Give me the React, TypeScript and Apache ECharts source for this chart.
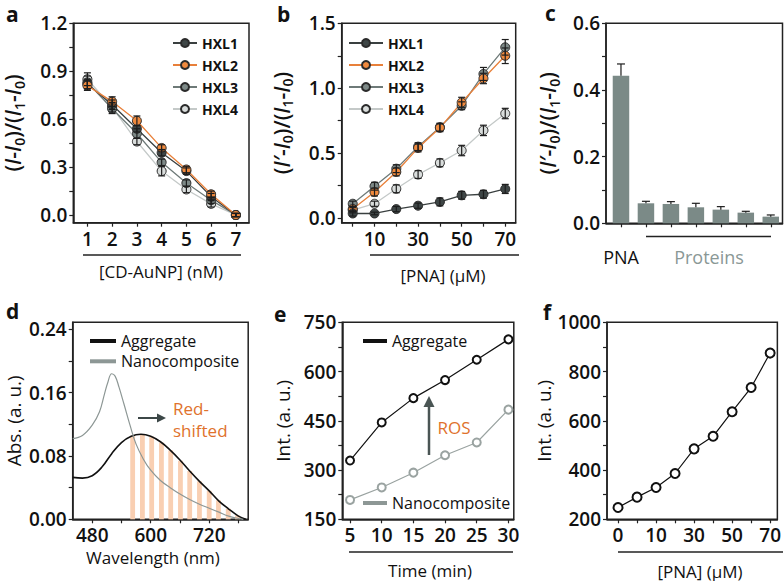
import React, { useEffect, useRef } from 'react';
import * as echarts from 'echarts';

const FONT = '"Open Sans", "DejaVu Sans", sans-serif';

// ---------- Panel a ----------
const aConc = [1, 2, 3, 4, 5, 6, 7];
const aHXL1 = [0.82, 0.69, 0.54, 0.39, 0.275, 0.115, 0.0];
const aHXL2 = [0.81, 0.71, 0.59, 0.42, 0.285, 0.13, 0.0];
const aHXL3 = [0.83, 0.665, 0.51, 0.33, 0.2, 0.093, 0.0];
const aHXL4 = [0.85, 0.675, 0.46, 0.275, 0.16, 0.07, 0.0];
const aErr1 = [0.03, 0.03, 0.02, 0.02, 0.02, 0.02, 0.01];
const aErr2 = [0.03, 0.03, 0.03, 0.02, 0.02, 0.02, 0.01];
const aErr3 = [0.04, 0.03, 0.03, 0.02, 0.02, 0.02, 0.01];
const aErr4 = [0.04, 0.03, 0.02, 0.03, 0.02, 0.02, 0.01];
const aYLabels = [0, 0.3, 0.6, 0.9, 1.2];
const aYTicks = [0, 0.15, 0.3, 0.45, 0.6, 0.75, 0.9, 1.05, 1.2];

// ---------- Panel b ----------
const bPNA = [0, 10, 20, 30, 40, 50, 60, 70];
const bHXL1 = [0.035, 0.035, 0.069, 0.095, 0.124, 0.175, 0.183, 0.224];
const bHXL2 = [0.07, 0.2, 0.355, 0.54, 0.695, 0.89, 1.075, 1.25];
const bHXL3 = [0.11, 0.245, 0.38, 0.55, 0.7, 0.865, 1.11, 1.315];
const bHXL4 = [0.06, 0.11, 0.225, 0.335, 0.425, 0.52, 0.675, 0.805];
const bErr1 = [0.02, 0.01, 0.02, 0.02, 0.03, 0.03, 0.03, 0.035];
const bErr2 = [0.02, 0.03, 0.03, 0.03, 0.03, 0.04, 0.04, 0.06];
const bErr3 = [0.02, 0.03, 0.03, 0.03, 0.03, 0.03, 0.05, 0.06];
const bErr4 = [0.02, 0.02, 0.03, 0.03, 0.03, 0.04, 0.04, 0.04];
const bXLabels = [10, 30, 50, 70];
const bYLabels = [0, 0.5, 1.0, 1.5];
const bYTicks = [0, 0.25, 0.5, 0.75, 1.0, 1.25, 1.5];

// ---------- Panel c ----------
const cSamples = ['PNA', 'Protein 1', 'Protein 2', 'Protein 3', 'Protein 4', 'Protein 5', 'Protein 6'];
const cValues = [0.443, 0.06, 0.058, 0.048, 0.041, 0.032, 0.02];
const cErr = [0.035, 0.006, 0.007, 0.012, 0.009, 0.004, 0.005];
const cYLabels = [0, 0.2, 0.4, 0.6];
const cYTicks = [0, 0.1, 0.2, 0.3, 0.4, 0.5, 0.6];

// ---------- Panel d ----------
const dAggregate = [
  [440, 0.053], [460, 0.052], [480, 0.055], [500, 0.066], [520, 0.083], [540, 0.097],
  [560, 0.105], [580, 0.1075], [600, 0.105], [620, 0.098], [640, 0.0875], [660, 0.075],
  [680, 0.061], [700, 0.048], [720, 0.036], [740, 0.023], [760, 0.013], [780, 0.004], [795, 0.0],
];
const dNanocomposite = [
  [440, 0.102], [460, 0.106], [480, 0.119], [495, 0.136], [505, 0.158], [512, 0.173],
  [520, 0.184], [527, 0.181], [535, 0.167], [545, 0.146], [558, 0.118], [570, 0.095],
  [585, 0.076], [600, 0.062], [620, 0.049], [640, 0.04], [660, 0.032], [680, 0.025],
  [700, 0.019], [720, 0.014], [740, 0.009], [760, 0.004], [780, 0.001], [790, 0.0],
];
const dStripes = [
  [563, 0.1055], [583, 0.1073], [602, 0.1045], [622, 0.097], [641, 0.087], [661, 0.074],
  [680, 0.061], [700, 0.048], [720, 0.036], [739, 0.024], [759, 0.0135], [778, 0.005],
];
const dXLabels = [480, 600, 720];
const dXTicks = [480, 540, 600, 660, 720, 780];
const dYLabels = [0, 0.08, 0.16, 0.24];
const dYTicks = [0, 0.04, 0.08, 0.12, 0.16, 0.2, 0.24];

// ---------- Panel e ----------
const eTime = [5, 10, 15, 20, 25, 30];
const eAggregate = [329, 445, 519, 574, 636, 698];
const eNanocomposite = [209, 247, 292, 345, 384, 484];
const eYLabels = [150, 300, 450, 600, 750];
const eYTicks = [150, 225, 300, 375, 450, 525, 600, 675, 750];

// ---------- Panel f ----------
const fPNA = [0, 5, 10, 20, 30, 40, 50, 60, 70];
const fInt = [248, 290, 329, 386, 486, 537, 637, 735, 875];
const fLabelIdx = [0, 2, 4, 6, 8];
const fYLabels = [200, 400, 600, 800, 1000];
const fYTicks = [200, 300, 400, 500, 600, 700, 800, 900, 1000];

const HXL_NAMES = ['HXL1', 'HXL2', 'HXL3', 'HXL4'];
const HXL_LINE = ['#3a4040', '#e8803a', '#6e7a78', '#c4c9c8'];
const HXL_FILL = ['#3e4646', '#f08a3e', '#7d8987', '#d9dddc'];

const AX = '#222';
const ORANGE = '#e0722c';

const rich = {
  p: { fontSize: 21, fontWeight: 600, fontFamily: FONT, color: '#111', lineHeight: 26 },
  i: { fontSize: 21, fontWeight: 600, fontStyle: 'italic', fontFamily: FONT, color: '#111', lineHeight: 26 },
  s: { fontSize: 14, fontWeight: 600, fontFamily: FONT, color: '#111', lineHeight: 13, verticalAlign: 'bottom' },
};
const yNameA = '{p|(}{i|I}{p|-}{i|I}{s|0}{p|)/(}{i|I}{s|1}{p|-}{i|I}{s|0}{p|)}';
const yNameB = '{p|(}{i|I′}{p|-}{i|I}{s|0}{p|)/(}{i|I}{s|1}{p|-}{i|I}{s|0}{p|)}';

const labelStyle = { fontSize: 19, fontWeight: 600, fontFamily: FONT, color: '#111' };

function valAxis(o: any) {
  return {
    type: 'value',
    gridIndex: o.grid,
    min: o.min,
    max: o.max,
    axisLine: { show: true, onZero: false, lineStyle: { color: AX, width: 1.5 } },
    axisTick: { show: true, length: o.tickLen ?? 4, customValues: o.ticks, lineStyle: { color: AX, width: 1.2 } },
    axisLabel: o.labels
      ? { show: true, customValues: o.labels, formatter: o.fmt, margin: o.margin ?? 6, ...labelStyle }
      : { show: false },
    splitLine: { show: false },
    name: o.name,
    nameLocation: 'middle',
    nameGap: o.nameGap,
    nameRotate: o.name ? 90 : undefined,
    nameTextStyle: o.rich ? { rich } : { fontSize: 19, fontFamily: FONT, color: '#111' },
  };
}

function errSeries(xi: number, xs: number[], ys: number[], es: number[], upOnly = false, cap = 3.5) {
  return {
    type: 'custom',
    xAxisIndex: xi,
    yAxisIndex: xi,
    silent: true,
    z: 6,
    encode: { x: 0, y: 1 },
    data: xs.map((x, i) => [x, ys[i], es[i]]),
    renderItem: (_p: any, api: any) => {
      const x = api.value(0);
      const y = api.value(1);
      const e = api.value(2);
      const hi = api.coord([x, y + e]);
      const lo = api.coord([x, upOnly ? y : y - e]);
      const style = { stroke: '#1e1e1e', lineWidth: 1.2 };
      const children: any[] = [
        { type: 'line', shape: { x1: hi[0], y1: hi[1], x2: lo[0], y2: lo[1] }, style },
        { type: 'line', shape: { x1: hi[0] - cap, y1: hi[1], x2: hi[0] + cap, y2: hi[1] }, style },
      ];
      if (!upOnly) children.push({ type: 'line', shape: { x1: lo[0] - cap, y1: lo[1], x2: lo[0] + cap, y2: lo[1] }, style });
      return { type: 'group', children };
    },
  };
}

function hxlSeries(xi: number, xs: number[], ys: number[], k: number) {
  return {
    type: 'line',
    name: HXL_NAMES[k],
    xAxisIndex: xi,
    yAxisIndex: xi,
    data: xs.map((x, i) => [x, ys[i]]),
    symbol: 'circle',
    symbolSize: 9,
    lineStyle: { color: HXL_LINE[k], width: 1.3 },
    itemStyle: { color: HXL_FILL[k], borderColor: '#2b2b2b', borderWidth: 1 },
    z: 3,
  };
}

function txt(x: number, y: number, text: string, o: any = {}) {
  return {
    type: 'text',
    x,
    y,
    silent: true,
    style: {
      text,
      fill: o.fill ?? '#111',
      fontSize: o.size ?? 17,
      fontWeight: o.weight ?? 'normal',
      fontFamily: FONT,
      lineHeight: o.lineHeight,
      align: o.align ?? 'center',
      textAlign: o.align ?? 'center',
      verticalAlign: o.valign ?? 'middle',
      textVerticalAlign: o.valign ?? 'middle',
    },
  };
}
function ln(x1: number, y1: number, x2: number, y2: number, color = '#222', w = 1.5) {
  return { type: 'line', silent: true, shape: { x1, y1, x2, y2 }, style: { stroke: color, lineWidth: w } };
}

const legendText = { fontFamily: FONT, fontWeight: 'bold', fontSize: 14, color: '#111', lineHeight: 14 };
const legendText2 = { fontFamily: FONT, fontSize: 16, color: '#111', lineHeight: 16 };
const letter = { size: 21, weight: 'bold', align: 'left', valign: 'middle', lineHeight: 14 };

export default function App() {
  const ref = useRef<HTMLDivElement>(null);
  useEffect(() => {
    if (!ref.current) return;
    const chart = echarts.init(ref.current, undefined, { renderer: 'svg' });
    const grids = [
      { left: 73.3, top: 23.3, width: 175.7, height: 199.4 },
      { left: 341.7, top: 23.3, width: 174, height: 199.4 },
      { left: 606, top: 23.3, width: 176.5, height: 200 },
      { left: 72.7, top: 322.3, width: 175.5, height: 197 },
      { left: 342.3, top: 322.3, width: 171.5, height: 197 },
      { left: 607, top: 322.3, width: 175.5, height: 197 },
    ].map((g) => ({ ...g, show: true, borderColor: AX, borderWidth: 1.5, backgroundColor: 'transparent' }));

    const option: any = {
      animation: false,
      backgroundColor: '#fff',
      grid: grids,
      legend: [
        {
          left: 167, top: 31, orient: 'vertical', selectedMode: false,
          data: HXL_NAMES, itemWidth: 24, itemHeight: 10, itemGap: 8, textStyle: legendText,
        },
        {
          left: 343, top: 31, orient: 'vertical', selectedMode: false,
          data: HXL_NAMES, itemWidth: 34, itemHeight: 10, itemGap: 8, textStyle: legendText,
        },
        {
          left: 85, top: 328, orient: 'vertical', selectedMode: false, icon: 'rect',
          itemWidth: 26, itemHeight: 4, itemGap: 4.3,
          data: [
            { name: 'Aggregate', itemStyle: { color: '#111' } },
            { name: 'Nanocomposite', itemStyle: { color: '#8d9795' } },
          ],
          textStyle: legendText2,
        },
        {
          left: 358, top: 328, selectedMode: false, icon: 'rect', itemWidth: 24, itemHeight: 4,
          data: [{ name: 'Aggregate', itemStyle: { color: '#111' } }],
          textStyle: legendText2,
        },
        {
          left: 358, top: 490, selectedMode: false, icon: 'rect', itemWidth: 24, itemHeight: 4,
          data: [{ name: 'Nanocomposite', itemStyle: { color: '#8d9795' } }],
          textStyle: legendText2,
        },
      ],
      xAxis: [
        valAxis({ grid: 0, min: 0.43, max: 7.53, ticks: aConc, labels: aConc, fmt: (v: number) => String(v), margin: 7 }),
        valAxis({ grid: 1, min: -5.06, max: 74.8, ticks: bPNA, labels: bXLabels, fmt: (v: number) => String(v), margin: 7 }),
        valAxis({ grid: 2, min: -0.6, max: 6.47, ticks: [0, 1, 2, 3, 4, 5, 6] }),
        valAxis({ grid: 3, min: 440, max: 800, ticks: dXTicks, labels: dXLabels, fmt: (v: number) => String(v), margin: 6 }),
        valAxis({ grid: 4, min: 3.78, max: 30.85, ticks: eTime, labels: eTime, fmt: (v: number) => String(v), margin: 6 }),
        valAxis({
          grid: 5, min: -0.58, max: 8.38, ticks: fPNA.map((_, i) => i), labels: fLabelIdx,
          fmt: (v: number) => String(fPNA[Math.round(v)]), margin: 6,
        }),
      ],
      yAxis: [
        valAxis({ grid: 0, min: -0.048, max: 1.2, ticks: aYTicks, labels: aYLabels, fmt: (v: number) => v.toFixed(1), name: yNameA, nameGap: 47, rich: true }),
        valAxis({ grid: 1, min: -0.036, max: 1.5, ticks: bYTicks, labels: bYLabels, fmt: (v: number) => v.toFixed(1), name: yNameB, nameGap: 47, rich: true }),
        valAxis({ grid: 2, min: 0, max: 0.6, ticks: cYTicks, labels: cYLabels, fmt: (v: number) => v.toFixed(1), name: yNameB, nameGap: 45, rich: true }),
        valAxis({ grid: 3, min: 0, max: 0.249, ticks: dYTicks, labels: dYLabels, fmt: (v: number) => v.toFixed(2), name: 'Abs. (a. u.)', nameGap: 49 }),
        valAxis({ grid: 4, min: 150, max: 750, ticks: eYTicks, labels: eYLabels, fmt: (v: number) => String(v), name: 'Int. (a. u.)', nameGap: 50 }),
        valAxis({ grid: 5, min: 200, max: 1000, ticks: fYTicks, labels: fYLabels, fmt: (v: number) => String(v), name: 'Int. (a. u.)', nameGap: 50 }),
      ],
      series: [
        // a
        hxlSeries(0, aConc, aHXL4, 3),
        hxlSeries(0, aConc, aHXL3, 2),
        hxlSeries(0, aConc, aHXL1, 0),
        hxlSeries(0, aConc, aHXL2, 1),
        errSeries(0, aConc, aHXL1, aErr1),
        errSeries(0, aConc, aHXL2, aErr2),
        errSeries(0, aConc, aHXL3, aErr3),
        errSeries(0, aConc, aHXL4, aErr4),
        // b
        hxlSeries(1, bPNA, bHXL4, 3),
        hxlSeries(1, bPNA, bHXL3, 2),
        hxlSeries(1, bPNA, bHXL2, 1),
        hxlSeries(1, bPNA, bHXL1, 0),
        errSeries(1, bPNA, bHXL1, bErr1),
        errSeries(1, bPNA, bHXL2, bErr2),
        errSeries(1, bPNA, bHXL3, bErr3),
        errSeries(1, bPNA, bHXL4, bErr4),
        // c
        {
          type: 'bar', name: 'Response', xAxisIndex: 2, yAxisIndex: 2,
          data: cValues.map((v, i) => [i, v]), barWidth: 16.5,
          itemStyle: { color: '#7b8a87' }, z: 2,
        },
        errSeries(2, cValues.map((_, i) => i), cValues, cErr, true, 4),
        // d
        {
          type: 'bar', name: 'Red-shifted region', xAxisIndex: 3, yAxisIndex: 3,
          data: dStripes, barWidth: 4.8, itemStyle: { color: '#f9cfb2' }, z: 1,
        },
        {
          type: 'line', name: 'Aggregate', xAxisIndex: 3, yAxisIndex: 3, data: dAggregate,
          smooth: 0.4, showSymbol: false, symbol: 'none',
          lineStyle: { color: '#111', width: 1.6 }, itemStyle: { color: '#111' }, z: 3,
        },
        {
          type: 'line', name: 'Nanocomposite', xAxisIndex: 3, yAxisIndex: 3, data: dNanocomposite,
          smooth: 0.4, showSymbol: false, symbol: 'none',
          lineStyle: { color: '#8d9795', width: 1.2 }, itemStyle: { color: '#8d9795' }, z: 3,
        },
        // e
        {
          type: 'line', name: 'Aggregate', xAxisIndex: 4, yAxisIndex: 4,
          data: eTime.map((t, i) => [t, eAggregate[i]]),
          symbol: 'emptyCircle', symbolSize: 8,
          lineStyle: { color: '#111', width: 1.2 }, itemStyle: { color: '#111', borderWidth: 1 }, z: 3,
        },
        {
          type: 'line', name: 'Nanocomposite', xAxisIndex: 4, yAxisIndex: 4,
          data: eTime.map((t, i) => [t, eNanocomposite[i]]),
          symbol: 'emptyCircle', symbolSize: 8,
          lineStyle: { color: '#9aa3a1', width: 1.2 }, itemStyle: { color: '#9aa3a1', borderWidth: 1 }, z: 3,
        },
        // f
        {
          type: 'line', name: 'Intensity', xAxisIndex: 5, yAxisIndex: 5,
          data: fInt.map((v, i) => [i, v]),
          symbol: 'emptyCircle', symbolSize: 9,
          lineStyle: { color: '#111', width: 1.2 }, itemStyle: { color: '#111', borderWidth: 1 }, z: 3,
        },
      ],
      graphic: [
        // panel letters
        txt(6, 13.5, 'a', letter),
        txt(277, 13.5, 'b', letter),
        txt(545, 13, 'c', letter),
        txt(6, 311, 'd', letter),
        txt(274, 314, 'e', letter),
        txt(543, 312, 'f', letter),
        // x titles + underlines
        ln(83, 255, 241, 255),
        txt(161, 271, '[CD-AuNP] (nM)'),
        ln(370, 255, 519, 255),
        txt(443, 275, '[PNA] (μM)'),
        ln(646, 236.5, 771, 236.5),
        txt(621, 257, cSamples[0], { size: 18 }),
        txt(709, 257, 'Proteins', { fill: '#8a9896', size: 18 }),
        txt(153, 557, 'Wavelength (nm)'),
        ln(349, 552, 513, 552),
        txt(430, 570, 'Time (min)'),
        ln(618, 552, 783, 552),
        txt(700, 571, '[PNA] (μM)'),
        // d annotation
        ln(138, 418, 159, 418, '#3c4747', 2),
        { type: 'polygon', silent: true, shape: { points: [[166, 418], [157, 413.5], [157, 422.5]] }, style: { fill: '#3c4747' } },
        txt(173, 408, 'Red-', { fill: ORANGE, align: 'left', size: 17, lineHeight: 18 }),
        txt(173, 430, 'shifted', { fill: ORANGE, align: 'left', size: 17, lineHeight: 18 }),
        // e annotation
        ln(429, 455, 429, 404, '#4a5554', 2.5),
        { type: 'polygon', silent: true, shape: { points: [[429, 396], [423.5, 407], [434.5, 407]] }, style: { fill: '#4a5554' } },
        txt(454, 427, 'ROS', { fill: ORANGE, size: 17 }),
      ],
    };
    chart.setOption(option);
    return () => chart.dispose();
  }, []);
  return <div ref={ref} style={{ position: 'absolute', left: 0, top: 0, width: 784, height: 581 }} />;
}
